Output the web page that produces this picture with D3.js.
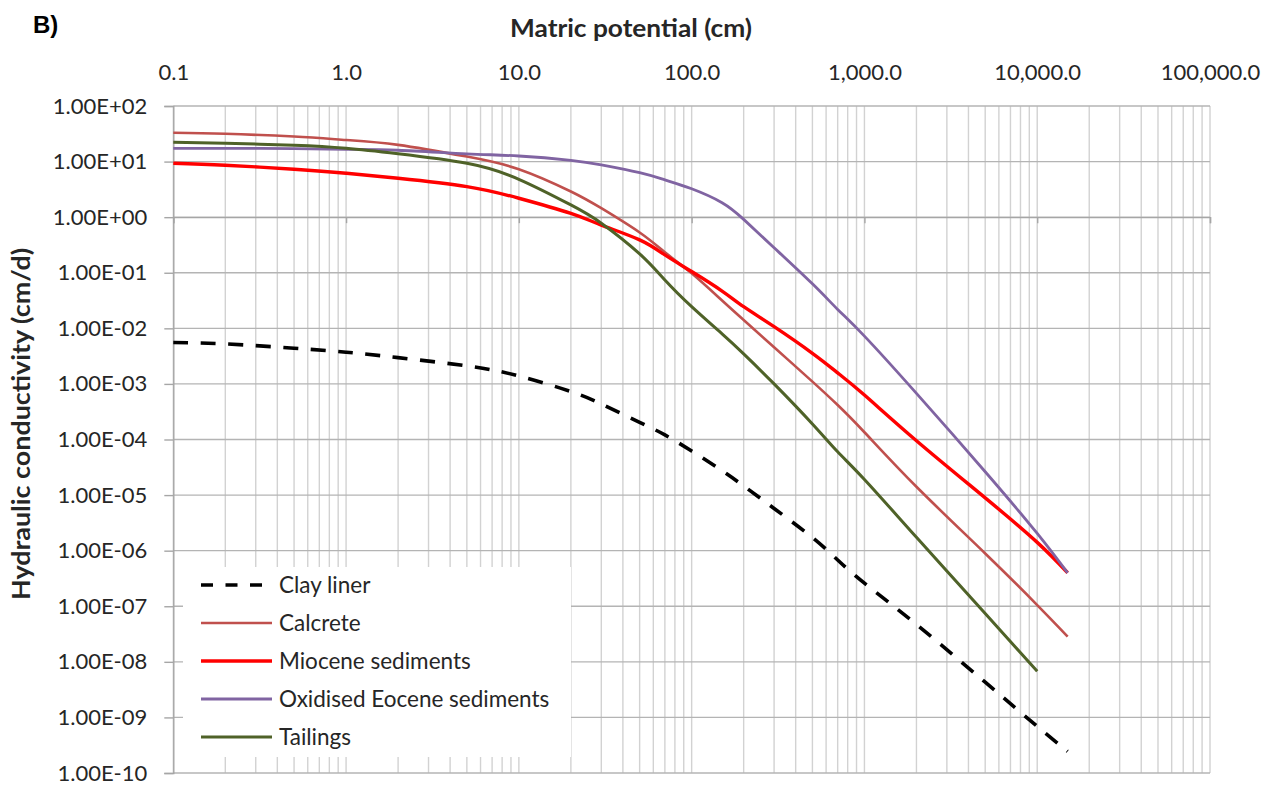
<!DOCTYPE html>
<html>
<head>
<meta charset="utf-8">
<script src="https://cdn.jsdelivr.net/npm/d3@7"></script>
<style>
  html, body { margin: 0; padding: 0; background: #ffffff; }
  svg { display: block; }
  text { font-family: Lato, "Open Sans", sans-serif; fill: #262626; }
</style>
</head>
<body>
<svg id="chart" width="1281" height="786"></svg>
<script>
// Matric potential (cm) at which each curve is sampled
const potential = [0.1, 0.2, 0.5, 1, 2, 5, 10, 20, 30, 50, 70, 100, 150, 200, 300, 500, 700, 1000, 2000, 5000, 10000, 15000];

// Unsaturated hydraulic conductivity (cm/d) for each material
const clayLiner = [5.57e-3, 5.24e-3, 4.39e-3, 3.72e-3, 2.97e-3, 2.11e-3, 1.39e-3, 7.28e-4, 4.37e-4, 2.04e-4, 1.21e-4, 6.2e-5, 2.75e-5, 1.46e-5, 5.75e-6, 1.72e-6, 6.8e-7, 2.6e-7, 4.7e-8, 4.3e-9, 6.9e-10, 2.45e-10];
const calcrete = [33.1, 31.6, 28.2, 24.5, 20.0, 12.3, 7.3, 2.9, 1.45, 0.53, 0.234, 0.0977, 0.0316, 0.0141, 4.57e-3, 1.10e-3, 4.17e-4, 1.35e-4, 1.41e-5, 8.9e-7, 1.05e-7, 2.85e-8];
const miocene = [9.31, 8.61, 7.28, 6.17, 5.0, 3.55, 2.19, 1.17, 0.72, 0.39, 0.209, 0.105, 0.0468, 0.0245, 0.0107, 3.55e-3, 1.58e-3, 6.3e-4, 9.5e-5, 8.9e-6, 1.41e-6, 4.0e-7];
const oxidisedEocene = [17.3, 17.3, 17.1, 16.6, 16.0, 13.8, 12.6, 10.5, 8.7, 6.3, 4.68, 3.24, 1.82, 0.912, 0.282, 0.0631, 0.0219, 7.24e-3, 6.76e-4, 2.63e-5, 2.04e-6, 3.98e-7];
const tailings = [22.2, 21.3, 19.6, 17.3, 13.8, 9.3, 4.8, 1.66, 0.78, 0.219, 0.074, 0.0245, 7.94e-3, 3.47e-3, 1.0e-3, 1.9e-4, 6.0e-5, 1.91e-5, 1.74e-6, 7.41e-8, 6.76e-9, null];

const seriesNames = ["Clay liner", "Calcrete", "Miocene sediments", "Oxidised Eocene sediments", "Tailings"];
const seriesValues = [clayLiner, calcrete, miocene, oxidisedEocene, tailings];

// Axis ticks and their printed labels
const xTicks = [0.1, 1, 10, 100, 1000, 10000, 100000];
const xTickLabels = ["0.1", "1.0", "10.0", "100.0", "1,000.0", "10,000.0", "100,000.0"];
const yTicks = [1e2, 1e1, 1e0, 1e-1, 1e-2, 1e-3, 1e-4, 1e-5, 1e-6, 1e-7, 1e-8, 1e-9, 1e-10];
const yTickLabels = ["1.00E+02", "1.00E+01", "1.00E+00", "1.00E-01", "1.00E-02", "1.00E-03", "1.00E-04", "1.00E-05", "1.00E-06", "1.00E-07", "1.00E-08", "1.00E-09", "1.00E-10"];

// Styling per series
const styles = [
  { color: "#000000", width: 3.6, dash: "15,12.5" },
  { color: "#c0504d", width: 2.6, dash: null },
  { color: "#ff0000", width: 3.4, dash: null },
  { color: "#8064a2", width: 2.8, dash: null },
  { color: "#4f6228", width: 3.0, dash: null }
];

const svg = d3.select("#chart");
const plot = { left: 173.3, right: 1210, top: 106, bottom: 773 };

const x = d3.scaleLog().domain([0.1, 1e5]).range([plot.left, plot.right]);
const y = d3.scaleLog().domain([1e-10, 1e2]).range([plot.bottom, plot.top]);

svg.append("rect").attr("width", 1281).attr("height", 786).attr("fill", "#ffffff");

// Vertical grid: every 1..9 multiple of each decade
const vGrid = [];
for (let e = -1; e < 5; e++) {
  for (let m = 1; m <= 9; m++) vGrid.push(m * Math.pow(10, e));
}
vGrid.push(1e5);
svg.append("g").selectAll("line").data(vGrid).join("line")
  .attr("x1", d => x(d)).attr("x2", d => x(d))
  .attr("y1", plot.top).attr("y2", plot.bottom)
  .attr("stroke", "#d2d2d2").attr("stroke-width", 1.4);

// Horizontal grid at each decade
svg.append("g").selectAll("line").data(yTicks).join("line")
  .attr("x1", plot.left).attr("x2", plot.right)
  .attr("y1", d => y(d)).attr("y2", d => y(d))
  .attr("stroke", "#b4b4b4").attr("stroke-width", 1.4);

// Left (vertical) axis with tick labels
const yAxis = svg.append("g")
  .attr("transform", `translate(${plot.left},0)`)
  .call(d3.axisLeft(y).tickValues(yTicks).tickFormat((d, i) => yTickLabels[i]).tickSize(9).tickPadding(17));
yAxis.select(".domain").attr("stroke", "#a6a6a6").attr("stroke-width", 1.4);
yAxis.selectAll(".tick line").attr("stroke", "#a6a6a6").attr("stroke-width", 1.4);
yAxis.selectAll("text").attr("font-family", "Lato, sans-serif").attr("font-size", 22).attr("fill", "#262626");

// Horizontal axis crossing at K = 1, labels placed along the top
const xAxisLine = svg.append("g")
  .attr("transform", `translate(0,${y(1)})`)
  .call(d3.axisBottom(x).tickValues(xTicks).tickFormat("").tickSize(6));
xAxisLine.select(".domain").attr("stroke", "#a6a6a6").attr("stroke-width", 1.4);
xAxisLine.selectAll(".tick line").attr("stroke", "#a6a6a6").attr("stroke-width", 1.4);

const xTop = svg.append("g")
  .attr("transform", `translate(0,${plot.top})`)
  .call(d3.axisTop(x).tickValues(xTicks).tickFormat((d, i) => xTickLabels[i]).tickSize(0).tickPadding(26));
xTop.select(".domain").remove();
xTop.selectAll("text").attr("font-family", "Lato, sans-serif").attr("font-size", 22).attr("fill", "#262626");

// Curves: natural cubic spline through the sampled points
const line = d3.line()
  .defined(d => d[1] != null)
  .x(d => x(d[0]))
  .y(d => y(d[1]))
  .curve(d3.curveNatural);

seriesValues.forEach((vals, i) => {
  const pts = potential.map((p, j) => [p, vals[j]]).filter(d => d[1] != null);
  svg.append("path")
    .datum(pts)
    .attr("d", line)
    .attr("fill", "none")
    .attr("stroke", styles[i].color)
    .attr("stroke-width", styles[i].width)
    .attr("stroke-dasharray", styles[i].dash)
    .attr("stroke-linejoin", "round");
});

// Legend
const legend = svg.append("g");
legend.append("rect")
  .attr("x", 183).attr("y", 567).attr("width", 388).attr("height", 190)
  .attr("fill", "#ffffff");
seriesNames.forEach((name, i) => {
  const ly = 585 + i * 38;
  legend.append("line")
    .attr("x1", 201).attr("x2", 272).attr("y1", ly).attr("y2", ly)
    .attr("stroke", styles[i].color)
    .attr("stroke-width", styles[i].width)
    .attr("stroke-dasharray", styles[i].dash ? "12,12.5" : null);
  legend.append("text")
    .attr("x", 279).attr("y", ly).attr("dy", "0.35em")
    .attr("font-size", 22.5)
    .text(name);
});

// Titles
svg.append("text")
  .attr("x", 631).attr("y", 37)
  .attr("text-anchor", "middle")
  .attr("font-size", 24).attr("font-weight", "bold")
  .attr("textLength", 242).attr("lengthAdjust", "spacingAndGlyphs")
  .text("Matric potential (cm)");

svg.append("text")
  .attr("transform", "translate(30,424) rotate(-90)")
  .attr("text-anchor", "middle")
  .attr("font-size", 24).attr("font-weight", "bold")
  .attr("textLength", 352).attr("lengthAdjust", "spacingAndGlyphs")
  .text("Hydraulic conductivity (cm/d)");

svg.append("text")
  .attr("x", 33).attr("y", 33)
  .style("font-family", "'Liberation Sans', Arial, sans-serif")
  .attr("font-size", 24).attr("font-weight", "bold")
  .style("fill", "#000000")
  .text("B)");
</script>
</body>
</html>
